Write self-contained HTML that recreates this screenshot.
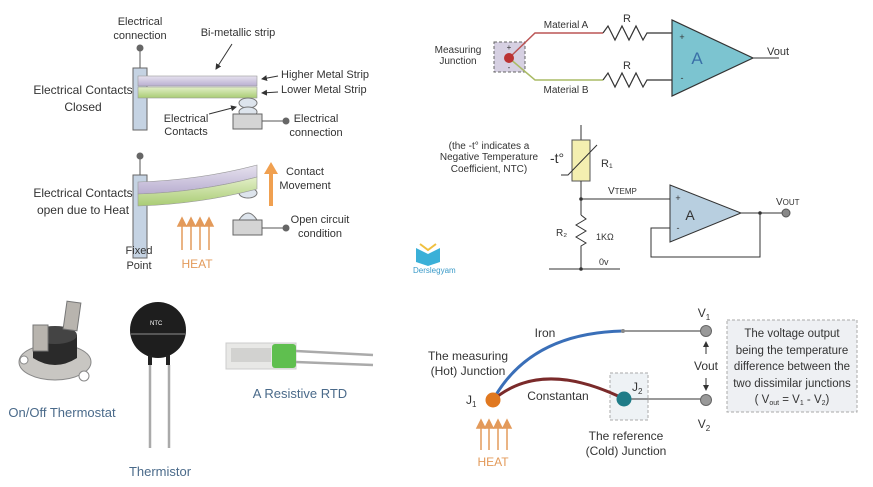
<!DOCTYPE html>
<html><head><meta charset="utf-8"><style>
html,body{margin:0;padding:0;background:#fff;width:873px;height:487px;overflow:hidden}
svg{display:block}
text{font-family:"Liberation Sans",sans-serif;fill:#333}
</style></head><body>
<svg width="873" height="487" viewBox="0 0 873 487" xmlns="http://www.w3.org/2000/svg">
<defs>
<marker id="ah" markerWidth="6" markerHeight="6" refX="5" refY="3" orient="auto"><path d="M0,0L6,3L0,6z" fill="#333"/></marker>
<linearGradient id="pur" x1="0" y1="0" x2="0" y2="1"><stop offset="0" stop-color="#e6e2ee"/><stop offset="1" stop-color="#b9aed0"/></linearGradient>
<linearGradient id="grn" x1="0" y1="0" x2="0" y2="1"><stop offset="0" stop-color="#e3efc8"/><stop offset="1" stop-color="#a9cc74"/></linearGradient>
</defs>
<!-- Bimetallic top -->
<g font-size="12">
<text x="140" y="25" text-anchor="middle" font-size="11">Electrical</text>
<text x="140" y="39" text-anchor="middle" font-size="11">connection</text>
<line x1="140" y1="48" x2="140" y2="68" stroke="#555"/><circle cx="140" cy="48" r="3.5" fill="#666"/>
<rect x="133" y="68" width="14" height="62" fill="#c5d3e3" stroke="#666"/>
<rect x="138" y="76" width="119" height="10" fill="url(#pur)" stroke="#999" stroke-width=".6"/>
<rect x="138" y="87" width="119" height="11" fill="url(#grn)" stroke="#999" stroke-width=".6"/>
<text x="238" y="36" text-anchor="middle" font-size="11">Bi-metallic strip</text>
<line x1="232" y1="44" x2="216" y2="69" stroke="#333" marker-end="url(#ah)"/>
<text x="281" y="78" font-size="11">Higher Metal Strip</text>
<line x1="278" y1="76" x2="262" y2="79" stroke="#333" marker-end="url(#ah)"/>
<text x="281" y="93" font-size="11">Lower Metal Strip</text>
<line x1="278" y1="92" x2="262" y2="93" stroke="#333" marker-end="url(#ah)"/>
<ellipse cx="248" cy="103" rx="9" ry="5" fill="#dde4ec" stroke="#777"/>
<ellipse cx="248" cy="112" rx="9" ry="5" fill="#dde4ec" stroke="#777"/>
<rect x="233" y="114" width="29" height="15" fill="#d4d4d4" stroke="#666"/>
<line x1="262" y1="121" x2="286" y2="121" stroke="#555"/><circle cx="286" cy="121" r="3.5" fill="#666"/>
<text x="316" y="122" text-anchor="middle" font-size="11">Electrical</text>
<text x="316" y="136" text-anchor="middle" font-size="11">connection</text>
<text x="83" y="94" text-anchor="middle">Electrical Contacts</text>
<text x="83" y="111" text-anchor="middle">Closed</text>
<text x="186" y="122" text-anchor="middle" font-size="11">Electrical</text>
<text x="186" y="135" text-anchor="middle" font-size="11">Contacts</text>
<line x1="209" y1="114" x2="236" y2="107" stroke="#333" marker-end="url(#ah)"/>
<!-- bottom -->
<line x1="140" y1="156" x2="140" y2="175" stroke="#555"/><circle cx="140" cy="156" r="3.5" fill="#666"/>
<rect x="133" y="175" width="14" height="83" fill="#c5d3e3" stroke="#666"/>
<ellipse cx="248" cy="193" rx="9" ry="5" fill="#dde4ec" stroke="#777"/>
<path d="M138,182 Q200,180 257,165 L257,177 Q200,192 138,194z" fill="url(#pur)" stroke="#999" stroke-width=".6"/>
<path d="M138,194 Q200,192 257,177 L257,189 Q200,204 138,206z" fill="url(#grn)" stroke="#999" stroke-width=".6"/>
<path d="M239,220 Q248,206 257,220z" fill="#dde4ec" stroke="#777"/>
<rect x="233" y="220" width="29" height="15" fill="#d4d4d4" stroke="#666"/>
<line x1="262" y1="228" x2="286" y2="228" stroke="#555"/><circle cx="286" cy="228" r="3.5" fill="#666"/>
<text x="320" y="223" text-anchor="middle" font-size="11">Open circuit</text>
<text x="320" y="237" text-anchor="middle" font-size="11">condition</text>
<rect x="269" y="173" width="4" height="33" fill="#f0a050"/><path d="M264,174 L271,162 L278,174z" fill="#f0a050"/>
<text x="305" y="175" text-anchor="middle" font-size="11">Contact</text>
<text x="305" y="189" text-anchor="middle" font-size="11">Movement</text>
<text x="83" y="197" text-anchor="middle">Electrical Contacts</text>
<text x="83" y="214" text-anchor="middle">open due to Heat</text>
<text x="139" y="254" text-anchor="middle" font-size="11">Fixed</text>
<text x="139" y="269" text-anchor="middle" font-size="11">Point</text>
<g stroke="#e39a5a" stroke-width="1.5" fill="#e39a5a">
<line x1="182" y1="250" x2="182" y2="224"/><path d="M178,226 L182,218 L186,226z"/>
<line x1="191" y1="250" x2="191" y2="224"/><path d="M187,226 L191,218 L195,226z"/>
<line x1="200" y1="250" x2="200" y2="224"/><path d="M196,226 L200,218 L204,226z"/>
<line x1="209" y1="250" x2="209" y2="224"/><path d="M205,226 L209,218 L213,226z"/>
</g>
<text x="197" y="268" text-anchor="middle" font-size="12" style="fill:#e39a5a">HEAT</text>
</g>

<!-- Thermocouple op amp top right -->
<g font-size="10">
<text x="458" y="53" text-anchor="middle">Measuring</text>
<text x="458" y="64" text-anchor="middle">Junction</text>
<rect x="494" y="42" width="31" height="30" fill="#d6d0e2" stroke="#666" stroke-dasharray="3,2"/>
<text x="509" y="50" text-anchor="middle" font-size="8">+</text><text x="509" y="70" text-anchor="middle" font-size="8">-</text>
<polyline points="509,58 535,33 603,33" fill="none" stroke="#b55" stroke-width="1.5"/>
<polyline points="509,58 535,80 603,80" fill="none" stroke="#aabb66" stroke-width="1.5"/>
<circle cx="509" cy="58" r="5" fill="#b33"/>
<polyline points="603,33 608,26 615,40 622,26 629,40 636,26 643,40 647,33 672,33" fill="none" stroke="#333" stroke-width="1.2"/>
<polyline points="603,80 608,73 615,87 622,73 629,87 636,73 643,87 647,80 672,80" fill="none" stroke="#333" stroke-width="1.2"/>
<text x="566" y="28" text-anchor="middle">Material A</text>
<text x="566" y="93" text-anchor="middle">Material B</text>
<text x="627" y="22" text-anchor="middle" font-size="11">R</text>
<text x="627" y="69" text-anchor="middle" font-size="11">R</text>
<path d="M672,20 L672,96 L753,58z" fill="#7cc4d0" stroke="#333" stroke-width="1.2"/>
<text x="697" y="64" text-anchor="middle" font-size="17" style="fill:#3a70a8">A</text>
<text x="682" y="40" text-anchor="middle" font-size="9">+</text><text x="682" y="81" text-anchor="middle" font-size="9">-</text>
<line x1="753" y1="58" x2="779" y2="58" stroke="#333"/>
<text x="767" y="55" font-size="11">Vout</text>
</g>

<!-- NTC circuit -->
<g font-size="10">
<text x="489" y="149" text-anchor="middle">(the -t° indicates a</text>
<text x="489" y="160" text-anchor="middle">Negative Temperature</text>
<text x="489" y="172" text-anchor="middle">Coefficient, NTC)</text>
<line x1="581" y1="125" x2="581" y2="140" stroke="#333"/>
<rect x="572" y="140" width="18" height="41" fill="#f4efb0" stroke="#555"/>
<polyline points="561,175 568,175 597,145" fill="none" stroke="#333"/>
<text x="550" y="163" font-size="14">-t°</text>
<text x="601" y="167" font-size="11">R₁</text>
<line x1="581" y1="181" x2="581" y2="215" stroke="#333"/>
<polyline points="581,215 586,219 576,225 586,231 576,237 586,243 581,246 581,269" fill="none" stroke="#333"/>
<circle cx="581" cy="199" r="1.8" fill="#333"/>
<line x1="581" y1="199" x2="670" y2="199" stroke="#333"/>
<text x="608" y="194" font-size="10">V<tspan font-size="8">TEMP</tspan></text>
<text x="556" y="236" font-size="10">R₂</text>
<text x="596" y="240" font-size="9">1KΩ</text>
<line x1="549" y1="269" x2="620" y2="269" stroke="#333"/><circle cx="581" cy="269" r="1.8" fill="#333"/>
<text x="599" y="265" font-size="9">0v</text>
<path d="M670,185 L670,242 L741,213z" fill="#b8cfe0" stroke="#333"/>
<text x="690" y="220" text-anchor="middle" font-size="14">A</text>
<text x="678" y="201" text-anchor="middle" font-size="9">+</text><text x="678" y="231" text-anchor="middle" font-size="9">-</text>
<line x1="741" y1="213" x2="786" y2="213" stroke="#333"/>
<circle cx="760" cy="213" r="1.8" fill="#333"/>
<polyline points="760,213 760,257 651,257 651,228 670,228" fill="none" stroke="#333"/>
<circle cx="786" cy="213" r="4" fill="#888" stroke="#555"/>
<text x="776" y="205" font-size="10">V<tspan font-size="8">OUT</tspan></text>
</g>
<!-- logo -->
<g>
<path d="M416,248 L428,254 L440,248 L440,262 L428,266 L416,262z" fill="#3ab0d8"/>
<path d="M420,244 L428,250 L436,244" fill="none" stroke="#f0c040" stroke-width="2"/>
<text x="413" y="273" font-size="8" style="fill:#3a9ac8">Derslegyam</text>
</g>

<!-- Bottom left images -->
<g>
<ellipse cx="55" cy="362" rx="36" ry="18" fill="#c8c6c2" stroke="#888"/>
<circle cx="24" cy="360" r="4" fill="#fff" stroke="#888"/><circle cx="84" cy="376" r="5" fill="#fff" stroke="#888"/>
<path d="M33,335 L33,358 Q55,372 77,358 L77,335z" fill="#2a2a2a"/>
<ellipse cx="55" cy="335" rx="22" ry="9" fill="#444"/>
<rect x="33" y="325" width="15" height="26" fill="#b8b4ae" stroke="#777"/>
<rect x="65" y="302" width="14" height="28" fill="#b8b4ae" stroke="#777" transform="rotate(8 72 316)"/>
<text x="62" y="417" text-anchor="middle" font-size="13" style="fill:#4a6a8a">On/Off Thermostat</text>

<circle cx="158" cy="330" r="28" fill="#1e1e1e"/>
<line x1="131" y1="334" x2="185" y2="334" stroke="#777" stroke-width="1.2"/>
<text x="150" y="325" font-size="6" style="fill:#fff">NTC</text>
<path d="M150,355 L150,365 M168,355 L168,365" stroke="#222" stroke-width="4"/>
<line x1="150" y1="365" x2="150" y2="448" stroke="#aaa" stroke-width="2.5"/>
<line x1="169" y1="365" x2="169" y2="448" stroke="#aaa" stroke-width="2.5"/>
<text x="160" y="476" text-anchor="middle" font-size="13" style="fill:#4a6a8a">Thermistor</text>

<rect x="226" y="343" width="70" height="26" fill="#e8e8e6" stroke="#ccc"/>
<rect x="231" y="348" width="40" height="14" fill="#d2d2d0"/>
<rect x="272" y="344" width="24" height="24" rx="3" fill="#5fbf4f"/>
<line x1="296" y1="351" x2="373" y2="355" stroke="#aaa" stroke-width="2.5"/>
<line x1="296" y1="362" x2="373" y2="365" stroke="#aaa" stroke-width="2.5"/>
<text x="300" y="398" text-anchor="middle" font-size="13" style="fill:#4a6a8a">A Resistive RTD</text>
</g>

<!-- thermocouple bottom right -->
<g font-size="12">
<path d="M493,400 Q530,333 623,331" fill="none" stroke="#3a6fb8" stroke-width="3"/>
<line x1="623" y1="331" x2="706" y2="331" stroke="#333"/><circle cx="623" cy="331" r="2" fill="#888"/>
<rect x="610" y="373" width="38" height="47" fill="#eef2f5" stroke="#aaa" stroke-dasharray="3,2"/>
<path d="M493,400 Q540,360 618,396" fill="none" stroke="#7a2a2a" stroke-width="3"/>
<line x1="624" y1="399" x2="706" y2="399" stroke="#333"/>
<circle cx="493" cy="400" r="7.5" fill="#e07820"/>
<circle cx="624" cy="399" r="7.5" fill="#1f7c88"/>
<circle cx="706" cy="331" r="5.5" fill="#999" stroke="#666"/>
<circle cx="706" cy="400" r="5.5" fill="#999" stroke="#666"/>
<text x="704" y="317" text-anchor="middle">V<tspan font-size="8" dy="3">1</tspan></text>
<text x="704" y="428" text-anchor="middle">V<tspan font-size="8" dy="3">2</tspan></text>
<text x="706" y="370" text-anchor="middle">Vout</text>
<line x1="706" y1="354" x2="706" y2="342" stroke="#333" marker-end="url(#ah)"/>
<line x1="706" y1="378" x2="706" y2="390" stroke="#333" marker-end="url(#ah)"/>
<text x="545" y="337" text-anchor="middle">Iron</text>
<text x="558" y="400" text-anchor="middle">Constantan</text>
<text x="468" y="360" text-anchor="middle">The measuring</text>
<text x="468" y="375" text-anchor="middle">(Hot) Junction</text>
<text x="466" y="404">J<tspan font-size="8" dy="3">1</tspan></text>
<text x="632" y="391">J<tspan font-size="8" dy="3">2</tspan></text>
<text x="626" y="440" text-anchor="middle">The reference</text>
<text x="626" y="455" text-anchor="middle">(Cold) Junction</text>
<g stroke="#e39a5a" stroke-width="1.5" fill="#e39a5a">
<line x1="481" y1="450" x2="481" y2="426"/><path d="M477,428 L481,420 L485,428z"/>
<line x1="489" y1="450" x2="489" y2="426"/><path d="M485,428 L489,420 L493,428z"/>
<line x1="498" y1="450" x2="498" y2="426"/><path d="M494,428 L498,420 L502,428z"/>
<line x1="507" y1="450" x2="507" y2="426"/><path d="M503,428 L507,420 L511,428z"/>
</g>
<text x="493" y="466" text-anchor="middle" style="fill:#e39a5a">HEAT</text>
<rect x="727" y="320" width="130" height="92" fill="#eef0f3" stroke="#aaa" stroke-dasharray="3,2"/>
<g font-size="11.5" text-anchor="middle">
<text x="792" y="337">The voltage output</text>
<text x="792" y="354">being the temperature</text>
<text x="792" y="370">difference between the</text>
<text x="792" y="387">two dissimilar junctions</text>
<text x="792" y="403">( V<tspan font-size="7" dy="2">out</tspan><tspan dy="-2"> = V</tspan><tspan font-size="7" dy="2">1</tspan><tspan dy="-2"> - V</tspan><tspan font-size="7" dy="2">2</tspan><tspan dy="-2">)</tspan></text>
</g>
</g>
</svg>
</body></html>
